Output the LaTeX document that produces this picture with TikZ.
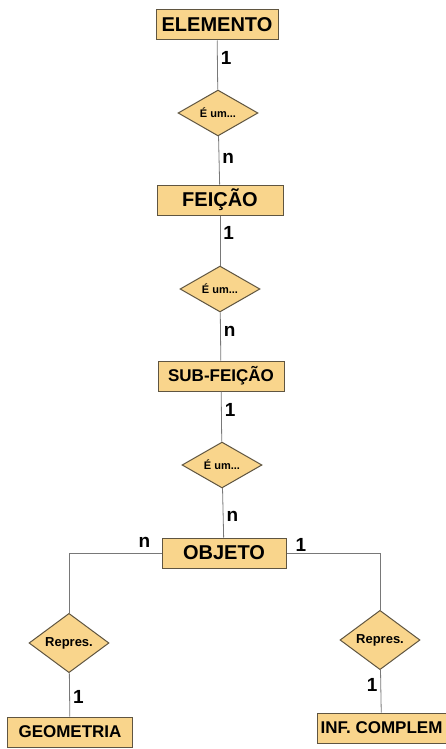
\documentclass[tikz,border=0pt]{standalone}
\usepackage{fontspec}
\setmainfont{Liberation Sans}
\usetikzlibrary{shapes.geometric}
\definecolor{boxfill}{RGB}{249,213,140}
\definecolor{boxline}{RGB}{95,85,65}
\definecolor{wire}{RGB}{120,120,120}
\tikzset{
  entity/.style={draw=boxline, fill=boxfill, line width=1pt, minimum height=30pt, inner sep=0pt, font=\fontsize{20}{20}\selectfont\bfseries},
  rel/.style={draw=boxline, fill=boxfill, line width=1pt, shape=diamond, minimum width=80pt, minimum height=43pt, inner sep=0pt},
  wireline/.style={draw=wire, line width=0.8pt},
  card/.style={font=\fontsize{19}{19}\selectfont\bfseries, inner sep=3pt}
}
\begin{document}
\begin{tikzpicture}[x=1pt,y=-1pt]
\useasboundingbox (0,0) rectangle (446,749);

\node[entity, minimum width=122pt] (elem) at (217,25) {ELEMENTO};
\node[rel, font=\fontsize{11}{11}\selectfont\bfseries] (eum1) at (218,113) {É um...};
\node[entity, minimum width=126pt] (feic) at (220,200) {FEIÇÃO};
\node[rel, font=\fontsize{11}{11}\selectfont\bfseries] (eum2) at (220,289) {É um...};
\node[entity, minimum width=126pt, font=\fontsize{17}{17}\selectfont\bfseries] (subf) at (221,376) {SUB-FEIÇÃO};
\node[rel, font=\fontsize{11}{11}\selectfont\bfseries] (eum3) at (222,465) {É um...};
\node[entity, minimum width=124pt] (obj) at (224,553) {OBJETO};
\node[rel, font=\fontsize{13}{13}\selectfont\bfseries] (repl) at (69,643) {Repres.};
\node[rel, font=\fontsize{13}{13}\selectfont\bfseries] (repr) at (380,640) {Repres.};
\node[entity, minimum width=125pt, font=\fontsize{17}{17}\selectfont\bfseries] (geo) at (70,732) {GEOMETRIA};
\node[entity, minimum width=129pt, font=\fontsize{17}{17}\selectfont\bfseries] (inf) at (381.5,728) {INF. COMPLEM};

% hierarchy
\draw[wireline] (elem) -- node[card, pos=0.35, right] (c1) {1} (eum1);
\draw[wireline] (eum1) -- node[card, pos=0.45, right] (c2) {n} (feic);
\draw[wireline] (feic) -- node[card, pos=0.35, right] (c3) {1} (eum2);
\draw[wireline] (eum2) -- node[card, pos=0.4, right] (c4) {n} (subf);
\draw[wireline] (subf) -- node[card, pos=0.37, right] (c5) {1} (eum3);
\draw[wireline] (eum3) -- node[card, pos=0.58, right] (c6) {n} (obj);

% representations
\draw[wireline] (obj.west) -| (repl.north);
\draw[wireline] (obj.east) -| (repr.north);
\node[card, anchor=south east] (c7) at ([xshift=-8pt,yshift=2pt]obj.west) {n};
\node[card, anchor=south west] (c8) at ([xshift=6pt,yshift=-2pt]obj.east) {1};
\draw[wireline] (repl) -- node[card, pos=0.55, right] (c9) {1} (geo);
\draw[wireline] (repr) -- node[card, pos=0.35, left] (c10) {1} (inf);
\end{tikzpicture}
\end{document}
